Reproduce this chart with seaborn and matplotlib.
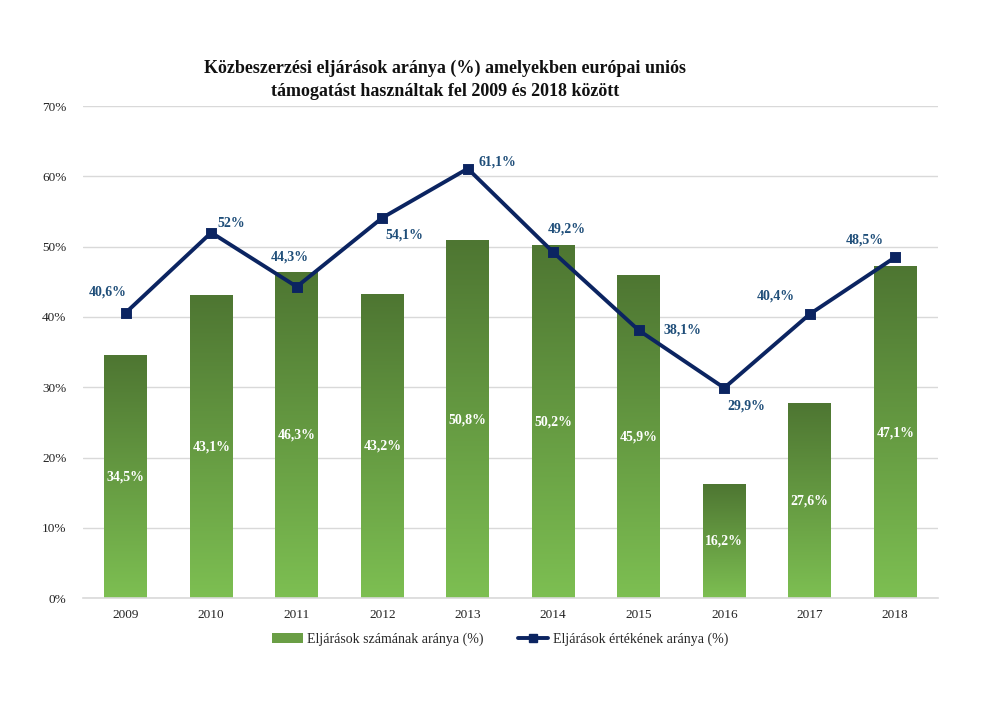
import numpy as np
import pandas as pd
import matplotlib
matplotlib.use("Agg")
import matplotlib.pyplot as plt
from matplotlib.colors import LinearSegmentedColormap
from matplotlib.patches import Patch
from matplotlib.lines import Line2D
import seaborn as sns

years = ["2009", "2010", "2011", "2012", "2013", "2014", "2015", "2016", "2017", "2018"]
count_share = [34.5, 43.1, 46.3, 43.2, 50.8, 50.2, 45.9, 16.2, 27.6, 47.1]
value_share = [40.6, 52.0, 44.3, 54.1, 61.1, 49.2, 38.1, 29.9, 40.4, 48.5]
count_labels = ["34,5%", "43,1%", "46,3%", "43,2%", "50,8%", "50,2%", "45,9%", "16,2%", "27,6%", "47,1%"]
value_labels = ["40,6%", "52%", "44,3%", "54,1%", "61,1%", "49,2%", "38,1%", "29,9%", "40,4%", "48,5%"]
y_ticks = [0, 10, 20, 30, 40, 50, 60, 70]
title = "Közbeszerzési eljárások aránya (%) amelyekben európai uniós\ntámogatást használtak fel 2009 és 2018 között"
legend_bar = "Eljárások számának aránya (%)"
legend_line = "Eljárások értékének aránya (%)"

# label offsets in pixels (dx, dy) relative to line markers
label_offsets = [(-18, 21), (20, 9), (-7, 30), (22, -17), (30, 7), (13, 23), (44, 0), (22, -18), (-34, 18), (-30, 17)]

sns.set_theme(style="white")
plt.rcParams["font.family"] = ["Liberation Serif", "DejaVu Serif"]

navy = "#0B2461"
label_blue = "#1F4E79"
green_top = "#4E7632"
green_bot = "#7DBF52"
grid_col = "#D9D9D9"

df = pd.DataFrame({"year": years, "count": count_share, "value": value_share})

fig = plt.figure(figsize=(10, 7.07), dpi=100)
ax = fig.add_axes([0.083, 0.154, 0.855, 0.696])

sns.barplot(data=df, x="year", y="count", color=green_bot, width=0.5, ax=ax, zorder=2)

ax.set_ylim(0, 70)
xlim = ax.get_xlim()
cmap = LinearSegmentedColormap.from_list("g", [green_bot, green_top])
grad = np.linspace(0, 1, 256).reshape(-1, 1)
for p in ax.patches:
    x0 = p.get_x()
    w = p.get_width()
    h = p.get_height()
    ax.imshow(grad, extent=(x0, x0 + w, 0, h), origin="lower", aspect="auto",
              cmap=cmap, vmin=0, vmax=1, zorder=2)
    p.set_facecolor("none")
    p.set_edgecolor("none")
ax.set_xlim(xlim)
ax.set_ylim(0, 70)

for i, (v, lab) in enumerate(zip(count_share, count_labels)):
    ax.text(i, v / 2, lab, ha="center", va="center", color="white",
            fontsize=10, fontweight="bold", zorder=5)

sns.pointplot(data=df, x="year", y="value", color=navy, markers="s",
              markersize=6, linewidth=2.8, ax=ax, zorder=4)

for i, (v, lab) in enumerate(zip(value_share, value_labels)):
    dx, dy = label_offsets[i]
    ax.annotate(lab, (i, v), xytext=(dx, dy), textcoords="offset pixels",
                ha="center", va="center", color=label_blue, fontsize=10,
                fontweight="bold", zorder=6)

ax.set_yticks(y_ticks)
ax.set_yticklabels([f"{t}%" for t in y_ticks])
ax.yaxis.grid(True, color=grid_col, linewidth=1)
ax.set_axisbelow(True)
ax.tick_params(axis="both", length=0, labelsize=9.5, colors="#222222")
ax.tick_params(axis="y", pad=12)
ax.tick_params(axis="x", pad=8)
ax.set_xlabel("")
ax.set_ylabel("")
for s in ["top", "right", "left"]:
    ax.spines[s].set_visible(False)
ax.spines["bottom"].set_color(grid_col)
ax.spines["bottom"].set_linewidth(1.2)

fig.text(0.445, 0.887, title, ha="center", va="center", fontsize=13,
         fontweight="bold", color="#111111", linespacing=1.45)

handles = [Patch(facecolor="#6A9E45", edgecolor="none"),
           Line2D([0], [0], color=navy, linewidth=2.8, marker="s", markersize=6)]
fig.legend(handles, [legend_bar, legend_line], loc="center",
           bbox_to_anchor=(0.5, 0.096), ncol=2, frameon=False, fontsize=10,
           handlelength=2.2, columnspacing=2.5, handletextpad=0.3)

fig.savefig("out.png", dpi=100, facecolor="white")
